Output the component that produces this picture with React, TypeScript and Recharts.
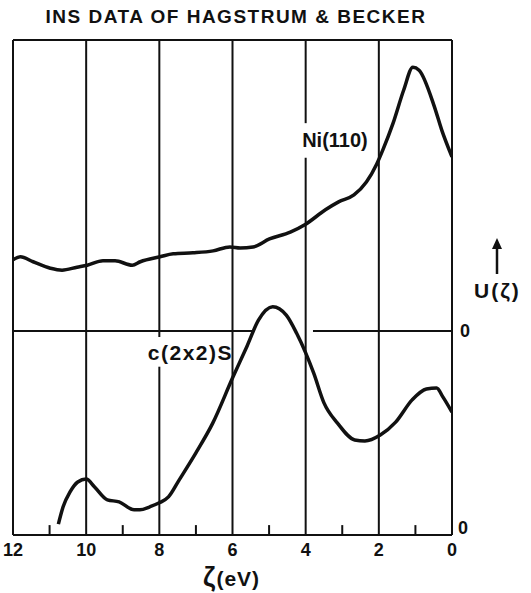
import { LineChart, Line, XAxis, YAxis, ReferenceLine, ReferenceDot } from "recharts";

// Ni(110) curve, energy in eV and U in arbitrary units (0 = bottom axis, 100 = top frame)
const niEnergy = [12.0, 11.8, 11.45, 10.98, 10.66, 10.25, 9.97, 9.54, 9.21, 8.74, 8.52, 7.98, 7.62, 7.08, 6.53, 6.07, 5.79, 5.44, 4.99, 4.42, 4.0, 3.46, 3.1, 2.68, 2.34, 2.06, 1.89, 1.61, 1.32, 1.07, 0.9, 0.48, 0.28, 0.0];
const niU = [55.6, 56.2, 55.2, 53.9, 53.5, 54.1, 54.5, 55.4, 55.4, 54.5, 55.2, 56.2, 56.8, 57.0, 57.4, 58.2, 58.0, 58.2, 59.8, 61.2, 62.8, 65.7, 67.3, 68.7, 71.3, 74.9, 77.8, 83.2, 89.9, 94.5, 93.9, 86.5, 81.8, 76.4];

// c(2x2)S curve
const sEnergy = [10.76, 10.63, 10.44, 10.23, 10.0, 9.77, 9.42, 9.1, 8.69, 8.53, 8.26, 8.0, 7.75, 7.46, 7.0, 6.54, 6.0, 5.6, 5.29, 4.9, 4.53, 4.25, 4.0, 3.78, 3.5, 3.13, 2.66, 2.38, 1.96, 1.54, 1.09, 0.7, 0.42, 0.25, 0.0];
const sU = [2.2, 5.7, 8.7, 10.7, 11.3, 9.7, 7.1, 6.7, 5.1, 5.1, 5.7, 6.5, 7.7, 11.1, 16.6, 22.6, 31.7, 38.2, 43.4, 46.1, 44.4, 40.8, 36.8, 32.7, 26.7, 22.6, 19.2, 19.0, 20.2, 22.8, 27.3, 29.5, 29.7, 27.9, 24.8];

const majorTicks = [0, 2, 4, 6, 8, 10, 12];
const minorTicks = [1, 3, 5, 7, 9, 11];
const zeroLevel = 41.2;

const niData = niEnergy.map((x, i) => ({ x, u: niU[i] }));
const sData = sEnergy.map((x, i) => ({ x, u: sU[i] }));

const ink = "#111";

export default function App() {
  return (
    <div style={{ position: "absolute", left: 0, top: 0, width: 531, height: 593, background: "#fff", fontFamily: "'Liberation Sans', Arial, sans-serif", color: ink }}>
      <div style={{ position: "absolute", left: 0, width: 472, top: 6, textAlign: "center", fontSize: 19, fontWeight: 600, letterSpacing: 1.5, whiteSpace: "nowrap" }}>
        INS DATA OF HAGSTRUM &amp; BECKER
      </div>
      <LineChart width={531} height={593} data={niData} margin={{ top: 40, right: 79, bottom: 28, left: 13 }}>
        <XAxis
          type="number"
          dataKey="x"
          domain={[0, 12]}
          reversed
          ticks={majorTicks}
          tickLine={false}
          axisLine={{ stroke: ink, strokeWidth: 2 }}
          tick={{ fill: ink, fontSize: 18, fontWeight: 600 }}
          height={30}
          allowDataOverflow
        />
        <YAxis hide type="number" domain={[0, 100]} allowDataOverflow />
        {/* frame */}
        <ReferenceLine x={12} stroke={ink} strokeWidth={2} />
        <ReferenceLine x={0} stroke={ink} strokeWidth={2} />
        <ReferenceLine y={100} stroke={ink} strokeWidth={2} />
        {/* vertical grid, broken where the curve labels sit */}
        <ReferenceLine x={10} stroke={ink} strokeWidth={2} />
        <ReferenceLine x={6} stroke={ink} strokeWidth={2} />
        <ReferenceLine x={2} stroke={ink} strokeWidth={2} />
        <ReferenceLine segment={[{ x: 8, y: 0 }, { x: 8, y: 34.0 }]} stroke={ink} strokeWidth={2} />
        <ReferenceLine segment={[{ x: 8, y: 40.0 }, { x: 8, y: 100 }]} stroke={ink} strokeWidth={2} />
        <ReferenceLine segment={[{ x: 4, y: 0 }, { x: 4, y: 76.2 }]} stroke={ink} strokeWidth={2} />
        <ReferenceLine segment={[{ x: 4, y: 83.2 }, { x: 4, y: 100 }]} stroke={ink} strokeWidth={2} />
        {/* zero line of the upper curve, hidden under the S peak */}
        <ReferenceLine segment={[{ x: 12, y: zeroLevel }, { x: 5.45, y: zeroLevel }]} stroke={ink} strokeWidth={2} />
        <ReferenceLine segment={[{ x: 3.8, y: zeroLevel }, { x: 0, y: zeroLevel }]} stroke={ink} strokeWidth={2} />
        {minorTicks.map((t) => (
          <ReferenceLine key={t} segment={[{ x: t, y: 0 }, { x: t, y: 2 }]} stroke={ink} strokeWidth={2} />
        ))}
        <ReferenceDot x={0} y={zeroLevel} r={0} fill="none" stroke="none"
          label={{ value: "0", position: "right", offset: 8, fill: ink, fontSize: 18, fontWeight: 600 }} />
        <ReferenceDot x={0} y={1.4} r={0} fill="none" stroke="none"
          label={{ value: "0", position: "right", offset: 6, fill: ink, fontSize: 18, fontWeight: 600 }} />
        <ReferenceDot x={3.2} y={79.8} r={0} fill="none" stroke="none"
          label={{ value: "Ni(110)", position: "center", fill: ink, fontSize: 20, fontWeight: 600 }} />
        <ReferenceDot x={7.15} y={36.8} r={0} fill="none" stroke="none"
          label={{ value: "c(2x2)S", position: "center", fill: ink, fontSize: 21, fontWeight: 600, letterSpacing: 1.5 }} />
        <Line data={niData} dataKey="u" type="monotone" stroke={ink} strokeWidth={3.5} dot={false} isAnimationActive={false} />
        <Line data={sData} dataKey="u" type="monotone" stroke={ink} strokeWidth={3.5} dot={false} isAnimationActive={false} />
      </LineChart>
      <svg style={{ position: "absolute", left: 488, top: 238 }} width={18} height={38}>
        <line x1={9} y1={8} x2={9} y2={36} stroke={ink} strokeWidth={2.5} />
        <polygon points="9,0 4,11 14,11" fill={ink} />
      </svg>
      <div style={{ position: "absolute", left: 474, top: 279, fontSize: 21, fontWeight: 600, letterSpacing: 2 }}>U(ζ)</div>
      <div style={{ position: "absolute", left: 203, top: 562, fontSize: 21, fontWeight: 600, letterSpacing: 1 }}>
        <span style={{ fontSize: 27 }}>ζ</span>(eV)
      </div>
    </div>
  );
}
